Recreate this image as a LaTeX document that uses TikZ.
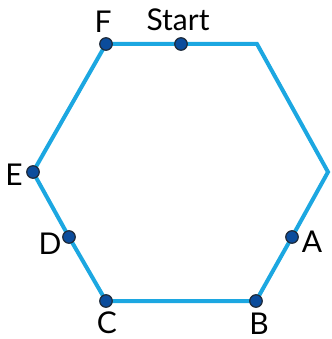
\documentclass[tikz,border=0pt]{standalone}
\usepackage{fontspec}
\setsansfont{Lato}
\usetikzlibrary{positioning,backgrounds}
\definecolor{edgeblue}{HTML}{1CA7E1}
\definecolor{dotblue}{HTML}{0B4C9C}
\definecolor{dotrim}{HTML}{1E2A3A}

\begin{document}
\begin{tikzpicture}[x=1pt, y=-1pt,
  dot/.style={circle, fill=dotblue, draw=dotrim, line width=1.2pt, inner sep=0pt, minimum size=12.5pt},
  lbl/.style={font=\fontsize{30}{32}\selectfont\sffamily, inner sep=0pt, anchor=base},
  edge/.style={edgeblue, line width=4pt, line join=miter}
]
  \useasboundingbox (0,0) rectangle (331,339);

  % points on the hexagon
  \node[dot] (F)     at (106,44)  {};
  \node[dot] (start) at (181,44)  {};
  \coordinate (topright) at (257,44);
  \coordinate (right)    at (328,172);
  \node[dot] (A)     at (292,237) {};
  \node[dot] (B)     at (256,301) {};
  \node[dot] (C)     at (106,301) {};
  \node[dot] (D)     at (69,237)  {};
  \node[dot] (E)     at (33,172)  {};

  % labels
  \node[lbl] (labF)     at (103,33)  {F};
  \node[lbl] (labstart) at (178,31)  {Start};
  \node[lbl] (labE)     at (14,185)  {E};
  \node[lbl] (labD)     at (50,254)  {D};
  \node[lbl] (labC)     at (107,333) {C};
  \node[lbl] (labB)     at (259,334) {B};
  \node[lbl] (labA)     at (312,252) {A};

  \begin{scope}[on background layer]
    \draw[edge] (F.center) -- (start.center) -- (topright) -- (right)
      -- (A.center) -- (B.center) -- (C.center) -- (D.center) -- (E.center) -- cycle;
  \end{scope}
\end{tikzpicture}
\end{document}
